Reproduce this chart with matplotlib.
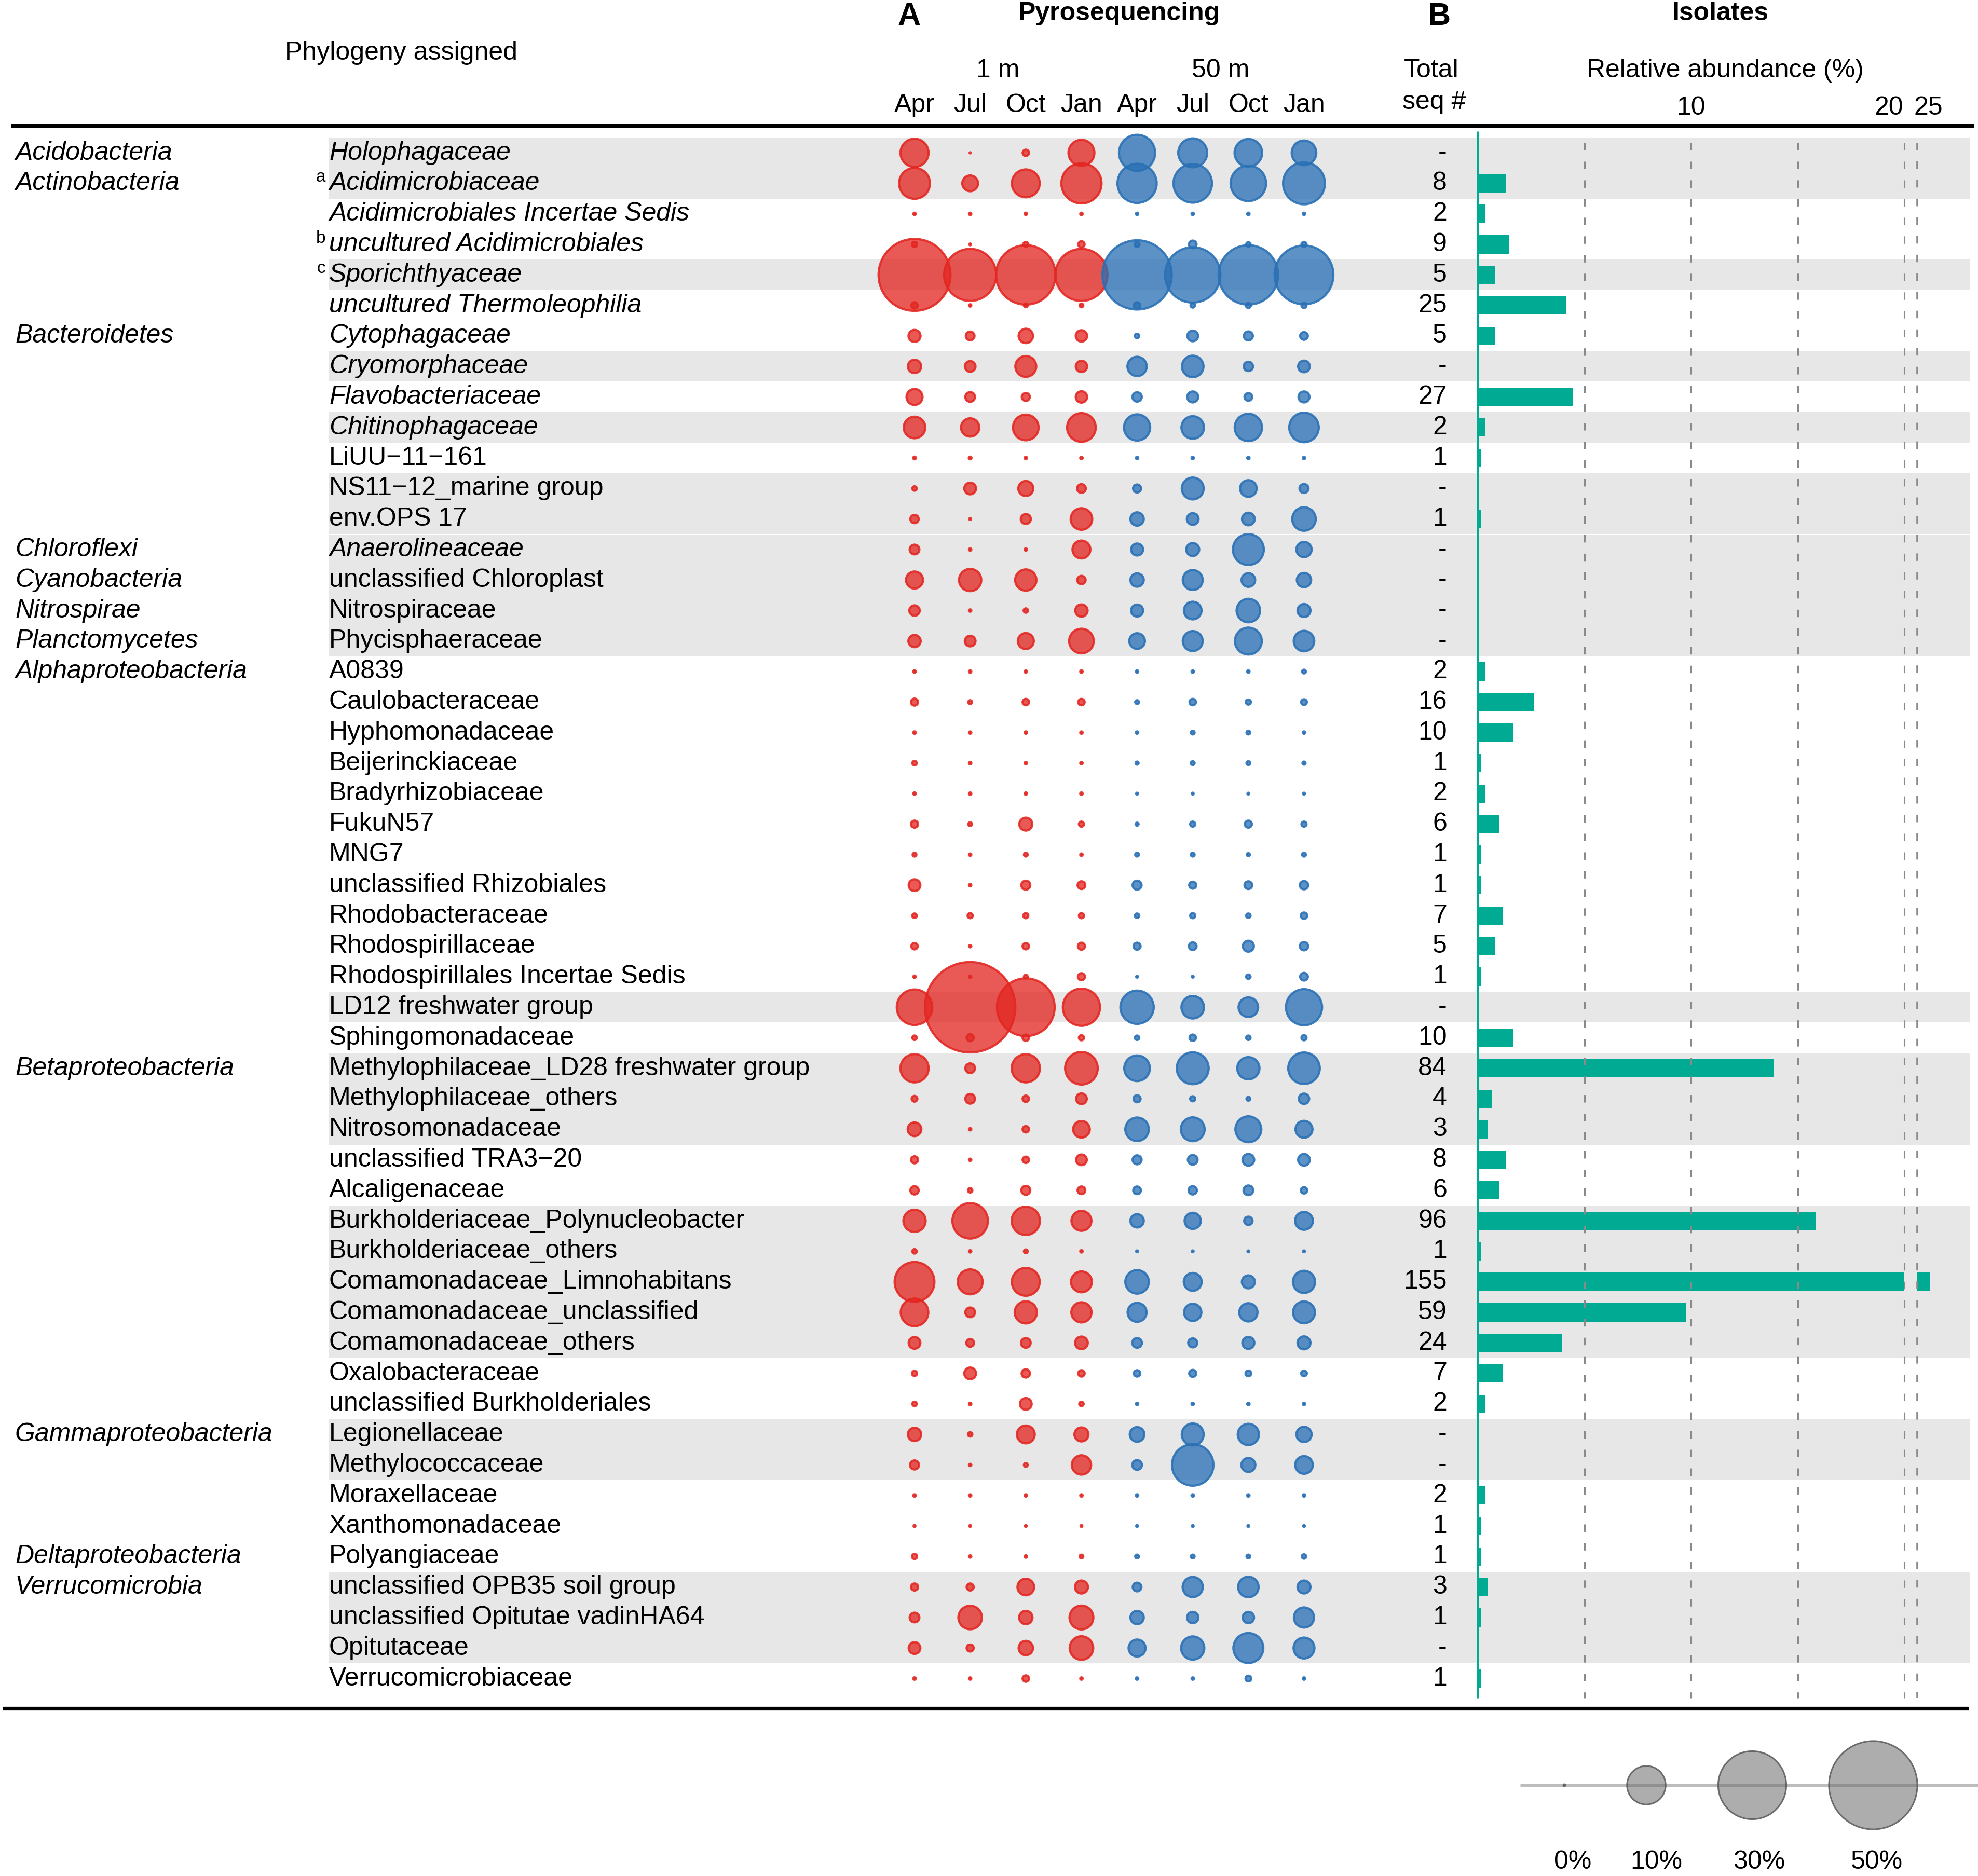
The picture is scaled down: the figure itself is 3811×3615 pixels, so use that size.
import numpy as np
import matplotlib
matplotlib.use("Agg")
import matplotlib.pyplot as plt
from matplotlib.transforms import blended_transform_factory

plt.rcParams['font.family'] = ['Liberation Sans', 'DejaVu Sans']
plt.rcParams['lines.scale_dashes'] = False

# ---------------- data ----------------
families = [
    "Holophagaceae", "Acidimicrobiaceae", "Acidimicrobiales Incertae Sedis",
    "uncultured Acidimicrobiales", "Sporichthyaceae", "uncultured Thermoleophilia",
    "Cytophagaceae", "Cryomorphaceae", "Flavobacteriaceae", "Chitinophagaceae",
    "LiUU\u221211\u2212161", "NS11\u221212_marine group", "env.OPS 17", "Anaerolineaceae",
    "unclassified Chloroplast", "Nitrospiraceae", "Phycisphaeraceae", "A0839",
    "Caulobacteraceae", "Hyphomonadaceae", "Beijerinckiaceae", "Bradyrhizobiaceae",
    "FukuN57", "MNG7", "unclassified Rhizobiales", "Rhodobacteraceae",
    "Rhodospirillaceae", "Rhodospirillales Incertae Sedis", "LD12 freshwater group",
    "Sphingomonadaceae", "Methylophilaceae_LD28 freshwater group",
    "Methylophilaceae_others", "Nitrosomonadaceae", "unclassified TRA3\u221220",
    "Alcaligenaceae", "Burkholderiaceae_Polynucleobacter", "Burkholderiaceae_others",
    "Comamonadaceae_Limnohabitans", "Comamonadaceae_unclassified",
    "Comamonadaceae_others", "Oxalobacteraceae", "unclassified Burkholderiales",
    "Legionellaceae", "Methylococcaceae", "Moraxellaceae", "Xanthomonadaceae",
    "Polyangiaceae", "unclassified OPB35 soil group",
    "unclassified Opitutae vadinHA64", "Opitutaceae", "Verrucomicrobiaceae",
]
italic_families = ["Holophagaceae", "Acidimicrobiaceae", "Acidimicrobiales Incertae Sedis",
                   "uncultured Acidimicrobiales", "Sporichthyaceae",
                   "uncultured Thermoleophilia", "Cytophagaceae", "Cryomorphaceae",
                   "Flavobacteriaceae", "Chitinophagaceae", "Anaerolineaceae"]
superscripts = {"Acidimicrobiaceae": "a", "uncultured Acidimicrobiales": "b",
                "Sporichthyaceae": "c"}
phyla = {"Holophagaceae": "Acidobacteria", "Acidimicrobiaceae": "Actinobacteria",
         "Cytophagaceae": "Bacteroidetes", "Anaerolineaceae": "Chloroflexi",
         "unclassified Chloroplast": "Cyanobacteria", "Nitrospiraceae": "Nitrospirae",
         "Phycisphaeraceae": "Planctomycetes", "A0839": "Alphaproteobacteria",
         "Methylophilaceae_LD28 freshwater group": "Betaproteobacteria",
         "Legionellaceae": "Gammaproteobacteria", "Polyangiaceae": "Deltaproteobacteria",
         "unclassified OPB35 soil group": "Verrucomicrobia"}
shaded = [1, 1, 0, 0, 1, 0, 0, 1, 0, 1,
          0, 1, 1, 1, 1, 1, 1, 0, 0, 0,
          0, 0, 0, 0, 0, 0, 0, 0, 1, 0,
          1, 1, 1, 0, 0, 1, 1, 1, 1, 1,
          0, 0, 1, 1, 0, 0, 0, 1, 1, 1, 0]

months = ["Apr", "Jul", "Oct", "Jan"]
depths = ["1 m", "50 m"]

# pyrosequencing relative abundance (%)
m1_apr = [5.7, 6.8, 0.13, 0.33, 34, 0.46, 1.25, 1.5, 2.05, 3.5,
          0.15, 0.27, 0.69, 0.88, 2.28, 0.98, 1.3, 0.13, 0.53, 0.13,
          0.27, 0.13, 0.53, 0.22, 1.2, 0.27, 0.46, 0.13, 8.8, 0.27,
          5.74, 0.39, 1.56, 0.53, 0.69, 3.7, 0.27, 10.9, 5.5, 1.2,
          0.33, 0.27, 1.5, 0.78, 0.13, 0.1, 0.33, 0.53, 0.88, 1.2, 0.13]
m1_jul = [0.07, 2.0, 0.13, 0.1, 18.2, 0.13, 0.74, 1.03, 0.88, 2.6,
          0.15, 1.2, 0.1, 0.13, 3.7, 0.13, 1.03, 0.13, 0.22, 0.13,
          0.13, 0.13, 0.22, 0.13, 0.13, 0.33, 0.13, 0.13, 53, 0.53,
          0.88, 0.88, 0.13, 0.13, 0.27, 8.8, 0.13, 4.56, 0.88, 0.61,
          1.2, 0.13, 0.27, 0.13, 0.13, 0.1, 0.13, 0.53, 4.1, 0.53, 0.13]
m1_oct = [0.45, 5.6, 0.13, 0.33, 23.5, 0.22, 1.7, 3.3, 0.65, 4.8,
          0.13, 1.83, 0.93, 0.13, 3.4, 0.27, 2.05, 0.13, 0.46, 0.13,
          0.13, 0.13, 1.43, 0.22, 0.78, 0.33, 0.46, 0.22, 22.2, 0.46,
          5.74, 0.46, 0.46, 0.46, 0.78, 5.74, 0.22, 5.6, 3.7, 0.88,
          0.69, 1.2, 2.5, 0.22, 0.13, 0.1, 0.13, 2.2, 1.5, 1.7, 0.46]
m1_jan = [4.9, 11.1, 0.13, 0.45, 18.2, 0.22, 1.14, 1.14, 1.14, 5.9,
          0.13, 0.74, 3.5, 2.5, 0.69, 1.3, 4.45, 0.13, 0.46, 0.13,
          0.13, 0.13, 0.33, 0.13, 0.61, 0.33, 0.53, 0.53, 9.6, 0.33,
          7.5, 1.03, 2.2, 1.03, 0.61, 3.04, 0.13, 3.3, 3.1, 1.37,
          0.46, 0.27, 1.63, 2.87, 0.13, 0.1, 0.22, 1.43, 4.2, 4.1, 0.13]
m50_apr = [9.1, 10.6, 0.13, 0.33, 31.6, 0.46, 0.27, 2.87, 0.83, 5.0,
           0.13, 0.65, 1.5, 1.25, 1.5, 1.25, 1.98, 0.13, 0.22, 0.13,
           0.17, 0.1, 0.17, 0.22, 0.78, 0.27, 0.53, 0.1, 7.8, 0.27,
           4.8, 0.53, 4.1, 0.78, 0.61, 1.5, 0.1, 4.1, 2.78, 0.88,
           0.46, 0.13, 1.76, 0.88, 0.13, 0.1, 0.22, 0.74, 1.5, 2.28, 0.13]
m50_jul = [6.0, 10.3, 0.13, 0.6, 20.5, 0.27, 1.03, 3.5, 1.08, 3.8,
           0.13, 3.6, 1.2, 1.43, 3.04, 2.44, 3.04, 0.13, 0.46, 0.22,
           0.22, 0.1, 0.33, 0.22, 0.53, 0.33, 0.61, 0.1, 3.8, 0.46,
           7.2, 0.33, 4.2, 0.88, 0.69, 2.1, 0.1, 2.5, 2.36, 0.78,
           0.53, 0.13, 3.6, 11.8, 0.13, 0.1, 0.22, 3.1, 1.14, 4.0, 0.13]
m50_oct = [5.5, 8.8, 0.13, 0.27, 23.5, 0.33, 0.78, 0.83, 0.61, 5.4,
           0.13, 2.2, 1.37, 6.8, 1.56, 4.1, 5.25, 0.13, 0.33, 0.22,
           0.22, 0.1, 0.53, 0.17, 0.61, 0.27, 1.08, 0.27, 2.95, 0.27,
           3.7, 0.22, 4.9, 1.2, 0.88, 0.69, 0.1, 1.43, 2.6, 1.25,
           0.39, 0.13, 3.4, 1.63, 0.13, 0.1, 0.22, 3.2, 1.14, 6.4, 0.39]
m50_jan = [4.45, 12.0, 0.13, 0.33, 23, 0.33, 0.61, 1.2, 1.08, 6.25,
           0.13, 0.78, 4.1, 1.9, 1.7, 1.43, 3.2, 0.22, 0.39, 0.13,
           0.17, 0.1, 0.33, 0.22, 0.69, 0.46, 0.69, 0.61, 9.1, 0.33,
           7.05, 0.98, 2.28, 1.2, 0.46, 2.5, 0.1, 3.7, 3.6, 1.43,
           0.39, 0.13, 1.9, 2.44, 0.13, 0.1, 0.27, 1.43, 3.1, 3.3, 0.13]

# isolates: number of sequences (None = "-")
seq_counts = [None, 8, 2, 9, 5, 25, 5, None, 27, 2,
              1, None, 1, None, None, None, None, 2, 16, 10,
              1, 2, 6, 1, 1, 7, 5, 1, None, 10,
              84, 4, 3, 8, 6, 96, 1, 155, 59, 24,
              7, 2, None, None, 2, 1, 1, 3, 1, None, 1]

legend_values = [0, 10, 30, 50]
legend_labels = ["0%", "10%", "30%", "50%"]
bar_tick_values = [10, 20, 25]

# ---------------- layout ----------------
W, H, DPI = 3811, 3615, 100
FS = 36
RED = (0.89, 0.15, 0.13)
BLUE = (0.16, 0.44, 0.71)
TEAL = "#00AA93"
SHADE = "#E7E7E7"

fig = plt.figure(figsize=(W / DPI, H / DPI), dpi=DPI)

row_top_px, row_step_px = 294.5, 58.8
n = len(families)
y_top = row_top_px - 0.5 * row_step_px
y_bot = row_top_px + (n - 0.5) * row_step_px


def row_axes(x0, x1):
    ax = fig.add_axes([x0 / W, 1 - y_bot / H, (x1 - x0) / W, (y_bot - y_top) / H])
    ax.set_ylim(n - 0.5, -0.5)
    ax.set_axis_off()
    return ax


rows = np.arange(n)

# background axes (shading + labels), x in pixel units
ax_bg = row_axes(0, W)
ax_bg.set_xlim(0, W)
for i, s in enumerate(shaded):
    if s:
        ax_bg.axhspan(i - 0.5, i + 0.5, xmin=634 / W, xmax=3796 / W, color=SHADE, lw=0)

for i, fam in enumerate(families):
    style = "italic" if fam in italic_families else "normal"
    ax_bg.text(634, i, fam, ha="left", va="center", fontsize=FS, fontstyle=style)
    if fam in superscripts:
        ax_bg.text(627, i - 0.2, superscripts[fam], ha="right", va="center",
                   fontsize=24)
    if fam in phyla:
        ax_bg.text(29, i, phyla[fam], ha="left", va="center", fontsize=FS,
                   fontstyle="italic")
    c = seq_counts[i]
    ax_bg.text(2788, i, "-" if c is None else str(c), ha="right", va="center",
               fontsize=FS)

# bubble axes
col_step = 107.2
col0 = 1762
ax_b = row_axes(col0 - col_step / 2, col0 + 7.5 * col_step)
ax_b.set_xlim(-0.5, 7.5)

LW = 3.0


def msize(p, minpx=5.0, lw=LW):
    D_pt = np.maximum(24.5 * np.sqrt(np.asarray(p, float)), minpx) * 72 / DPI
    d = np.maximum(D_pt - lw, 0.6)
    return d ** 2


columns = [m1_apr, m1_jul, m1_oct, m1_jan, m50_apr, m50_jul, m50_oct, m50_jan]
for j, vals in enumerate(columns):
    base = RED if j < 4 else BLUE
    ax_b.scatter(np.full(n, j), rows, s=msize(vals),
                 facecolor=base + (0.76,), edgecolor=base + (0.88,),
                 linewidths=LW, clip_on=False, zorder=3)

# bar axes with broken x axis
total = sum(c for c in seq_counts if c is not None)
rel = np.array([0 if c is None else c / total * 100 for c in seq_counts])
px_per_pct = 41.1
x0_bar = 2847
ax_bar1 = row_axes(x0_bar, x0_bar + 20 * px_per_pct)
ax_bar1.set_xlim(0, 20)
x2_start = 3694
ax_bar2 = row_axes(x2_start, 3796)
ax_bar2.set_xlim(25, 25 + (3796 - x2_start) / px_per_pct)

for ax in (ax_bar1, ax_bar2):
    ax.barh(rows, rel, height=0.6, color=TEAL, lw=0, zorder=2)

ymin_l = (275 - row_top_px) / row_step_px
ymax_l = (3272 - row_top_px) / row_step_px
ax_bar1.vlines([5, 10, 15, 20], ymin_l, ymax_l, colors="#8A8A8A", lw=2.2,
               linestyles=(0, (10.4, 15.5)), clip_on=False, zorder=3)
ax_bar2.vlines([25], ymin_l, ymax_l, colors="#8A8A8A", lw=2.6,
               linestyles=(0, (10.4, 15.5)), clip_on=False, zorder=3)
ax_bar1.vlines([0], (253 - row_top_px) / row_step_px, ymax_l, colors=TEAL, lw=2.2,
               clip_on=False, zorder=4)

# overlay layout axes (pixel coords, y downward)
ax_L = fig.add_axes([0, 0, 1, 1])
ax_L.set_xlim(0, W)
ax_L.set_ylim(H, 0)
ax_L.set_axis_off()

ax_L.plot([21, 3803], [242, 242], color="black", lw=5.2, solid_capstyle="butt")
ax_L.plot([5, 3793], [3292, 3292], color="black", lw=5.2, solid_capstyle="butt")

ax_L.text(1752, 32, "A", ha="center", va="center", fontsize=44, fontweight="bold")
ax_L.text(2156, 26, "Pyrosequencing", ha="center", va="center", fontsize=FS,
          fontweight="bold")
ax_L.text(2773, 32, "B", ha="center", va="center", fontsize=44, fontweight="bold")
ax_L.text(3315, 26, "Isolates", ha="center", va="center", fontsize=FS,
          fontweight="bold")
ax_L.text(773, 102, "Phylogeny assigned", ha="center", va="center", fontsize=FS)
ax_L.text(2758, 136, "Total", ha="center", va="center", fontsize=FS)
ax_L.text(2763, 197, "seq #", ha="center", va="center", fontsize=FS)
ax_L.text(3324, 136, "Relative abundance (%)", ha="center", va="center", fontsize=FS)

tb = blended_transform_factory(ax_b.transData, ax_L.transData)
for k, dlab in enumerate(depths):
    ax_L.text(1.5 + 4 * k, 136, dlab, ha="center", va="center", fontsize=FS,
              transform=tb)
for j in range(8):
    ax_L.text(j, 203, months[j % 4], ha="center", va="center", fontsize=FS,
              transform=tb)

t1 = blended_transform_factory(ax_bar1.transData, ax_L.transData)
t2 = blended_transform_factory(ax_bar2.transData, ax_L.transData)
ax_L.text(bar_tick_values[0], 208, str(bar_tick_values[0]), ha="center",
          va="center", fontsize=FS, transform=t1)
ax_L.text(bar_tick_values[1] - 0.05, 208, str(bar_tick_values[1]), ha="right",
          va="center", fontsize=FS, transform=t1)
ax_L.text(bar_tick_values[2] - 0.15, 208, str(bar_tick_values[2]), ha="left",
          va="center", fontsize=FS, transform=t2)

# size legend
leg_x = [3014, 3172, 3376, 3609]
leg_lab_x = [3030, 3191, 3389, 3616]
ax_L.plot([2929, 3811], [3440, 3440], color="#BDBDBD", lw=5.0, solid_capstyle="butt",
          zorder=1)
ax_L.scatter(leg_x, [3440] * 4, s=msize(legend_values, minpx=7.0, lw=2.2),
             facecolor=(0.42, 0.42, 0.42, 0.55), edgecolor=(0.35, 0.35, 0.35, 0.85),
             linewidths=2.2, zorder=2)
for x, lab in zip(leg_lab_x, legend_labels):
    ax_L.text(x, 3588, lab, ha="center", va="center", fontsize=FS)

fig.savefig("out.png", dpi=DPI)
